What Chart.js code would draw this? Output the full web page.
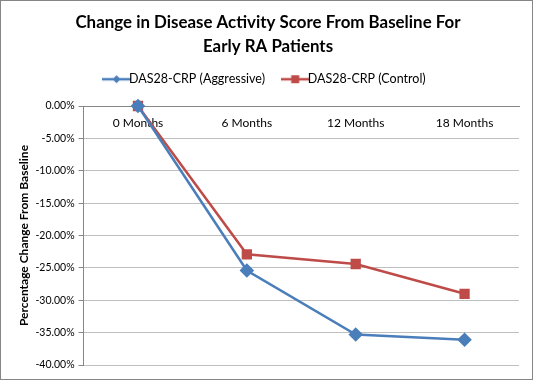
<!DOCTYPE html>
<html>
<head>
<meta charset="utf-8">
<script src="https://cdn.jsdelivr.net/npm/chart.js@4/dist/chart.umd.min.js"></script>
<style>
  html, body { margin: 0; padding: 0; background: #fff; }
  #wrap { position: relative; width: 533px; height: 380px; box-sizing: border-box; border: 1px solid #868686; }
  canvas { display: block; }
</style>
</head>
<body>
<div id="wrap"><canvas id="c" width="531" height="378"></canvas></div>
<script>
const titleLines = ['Change in Disease Activity Score From Baseline For', 'Early RA Patients'];
const categories = ['0 Months', '6 Months', '12 Months', '18 Months'];
const aggressiveLabel = 'DAS28-CRP (Aggressive)';
const controlLabel = 'DAS28-CRP (Control)';
const aggressive = [0, -25.4, -35.3, -36.1];
const control = [0, -22.9, -24.4, -29.0];
const yAxisTitle = 'Percentage Change From Baseline';

const BLUE = '#4A7EBB';
const RED = '#BE4B48';
const FONT = "Lato, 'Open Sans', sans-serif";

function legendIcon(color, shape) {
  const c = document.createElement('canvas');
  c.width = 29; c.height = 10;
  const g = c.getContext('2d');
  g.strokeStyle = color; g.lineWidth = 2.5;
  g.beginPath(); g.moveTo(0, 5); g.lineTo(29, 5); g.stroke();
  g.fillStyle = color;
  if (shape === 'diamond') {
    g.beginPath(); g.moveTo(14.5, 1); g.lineTo(18.5, 5); g.lineTo(14.5, 9); g.lineTo(10.5, 5); g.closePath(); g.fill();
  } else {
    g.fillRect(10.5, 1, 8, 8);
  }
  return c;
}
const iconA = legendIcon(BLUE, 'diamond');
const iconC = legendIcon(RED, 'square');

const legendGap = {
  id: 'legendGap',
  afterInit(chart) {
    const lg = chart.legend;
    const orig = lg.fit;
    lg.fit = function () { orig.call(this); this.height = 40; };
  },
  afterLayout(chart) {
    const lg = chart.legend;
    lg.top -= 17; lg.bottom -= 17;
  }
};

new Chart(document.getElementById('c'), {
  type: 'line',
  data: {
    labels: categories,
    datasets: [
      { label: aggressiveLabel, data: aggressive, borderColor: BLUE, backgroundColor: BLUE, clip: false,
        borderWidth: 2.5, pointStyle: 'rectRot', pointRadius: 5.5, pointHoverRadius: 5.5, tension: 0 },
      { label: controlLabel, data: control, borderColor: RED, backgroundColor: RED, clip: false,
        borderWidth: 2.5, pointStyle: 'rect', pointRadius: 5.5, pointHoverRadius: 5.5, tension: 0 }
    ]
  },
  plugins: [legendGap],
  options: {
    responsive: false,
    animation: false,
    layout: { padding: { left: 16, right: 13, top: 0, bottom: 14 } },
    plugins: {
      title: {
        display: true, text: titleLines, color: '#000',
        font: { family: FONT, size: 16.9, weight: 'bold', lineHeight: 24 / 16.9 },
        padding: { top: 10, bottom: 7 }
      },
      legend: {
        display: true,
        labels: {
          usePointStyle: true,
          font: { family: FONT, size: 12.5 }, color: '#000',
          boxWidth: 24, boxHeight: 10,
          padding: 24,
          generateLabels: (chart) => chart.data.datasets.map((d, i) => ({
            text: d.label, pointStyle: i === 0 ? iconA : iconC, datasetIndex: i,
            fillStyle: d.borderColor, strokeStyle: d.borderColor, lineWidth: 0, hidden: false
          }))
        }
      },
      tooltip: { enabled: false }
    },
    scales: {
      x: {
        position: { y: 0 },
        offset: true,
        grid: { display: true, drawOnChartArea: false, offset: true, tickLength: 0, color: '#868686' },
        border: { display: true, color: '#868686', width: 1 },
        ticks: { font: { family: FONT, size: 12 }, color: '#000', padding: 10 }
      },
      y: {
        min: -40, max: 0,
        ticks: { stepSize: 5, font: { family: FONT, size: 10.5 }, color: '#000', padding: 4,
                 callback: v => v.toFixed(2) + '%' },
        grid: { color: '#BFBFBF', lineWidth: 1, tickLength: 5, tickColor: '#868686' },
        border: { display: true, color: '#868686' },
        title: { display: true, text: yAxisTitle, color: '#000', font: { family: FONT, size: 12, weight: 'bold' }, padding: 0 }
      }
    }
  }
});
</script>
</body>
</html>
